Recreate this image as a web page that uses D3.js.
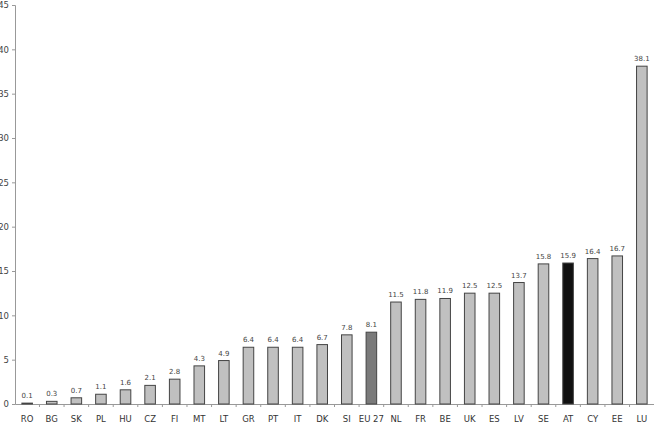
<!DOCTYPE html>
<html><head><meta charset="utf-8">
<script src="https://cdn.jsdelivr.net/npm/d3@7"></script>
<style>body{margin:0;background:#fff}svg{display:block}text{font-family:"DejaVu Sans",sans-serif}</style>
</head><body><svg id="c" width="654" height="427"></svg>
<script>
const categories = ["RO","BG","SK","PL","HU","CZ","FI","MT","LT","GR","PT","IT","DK","SI","EU 27","NL","FR","BE","UK","ES","LV","SE","AT","CY","EE","LU"];
const values = [0.1,0.3,0.7,1.1,1.6,2.1,2.8,4.3,4.9,6.4,6.4,6.4,6.7,7.8,8.1,11.5,11.8,11.9,12.5,12.5,13.7,15.8,15.9,16.4,16.7,38.1];
const yTicks = [0,5,10,15,20,25,30,35,40,45];
const highlight = {"EU 27":"#7a7a7a","AT":"#111111"};

const svg = d3.select("#c");
const x = d3.scaleBand().domain(categories).range([15,654]).paddingInner(0.57).paddingOuter(0.28);
const y = d3.scaleLinear().domain([0,45]).range([404,5]);

// y axis
const ya = svg.append("g").attr("transform","translate(15,0)")
  .call(d3.axisLeft(y).tickValues(yTicks).tickSize(3).tickPadding(3));
ya.select(".domain").attr("stroke","#999");
ya.selectAll(".tick line").attr("stroke","#999");
ya.selectAll(".tick text").attr("fill","#444").style("font-size","8.5px");

// x axis
const xa = svg.append("g").attr("transform","translate(0,404)")
  .call(d3.axisBottom(x).tickSize(0).tickPadding(12));
xa.select(".domain").attr("stroke","#999");
xa.selectAll(".tick text").attr("fill","#333").style("font-size","8.5px");
// boundary ticks between categories
const step = x.step();
xa.selectAll(".bt").data(categories.slice(1)).enter().append("line")
  .attr("x1",d=>x(d)-(step-x.bandwidth())/2).attr("x2",d=>x(d)-(step-x.bandwidth())/2)
  .attr("y1",0).attr("y2",3).attr("stroke","#999");

const data = categories.map((c,i)=>({c,v:values[i]}));
svg.append("g").selectAll("rect").data(data).enter().append("rect")
  .attr("x",d=>x(d.c)).attr("width",x.bandwidth())
  .attr("y",d=>y(d.v)).attr("height",d=>y(0)-y(d.v))
  .attr("fill",d=>highlight[d.c]||"#c0c0c0")
  .attr("stroke","#444").attr("stroke-width",1);

svg.append("g").selectAll("text").data(data).enter().append("text")
  .attr("x",d=>x(d.c)+x.bandwidth()/2).attr("y",d=>y(d.v)-5)
  .attr("text-anchor","middle").attr("fill","#444").style("font-size","7px")
  .text(d=>d.v.toFixed(1));
</script></body></html>
